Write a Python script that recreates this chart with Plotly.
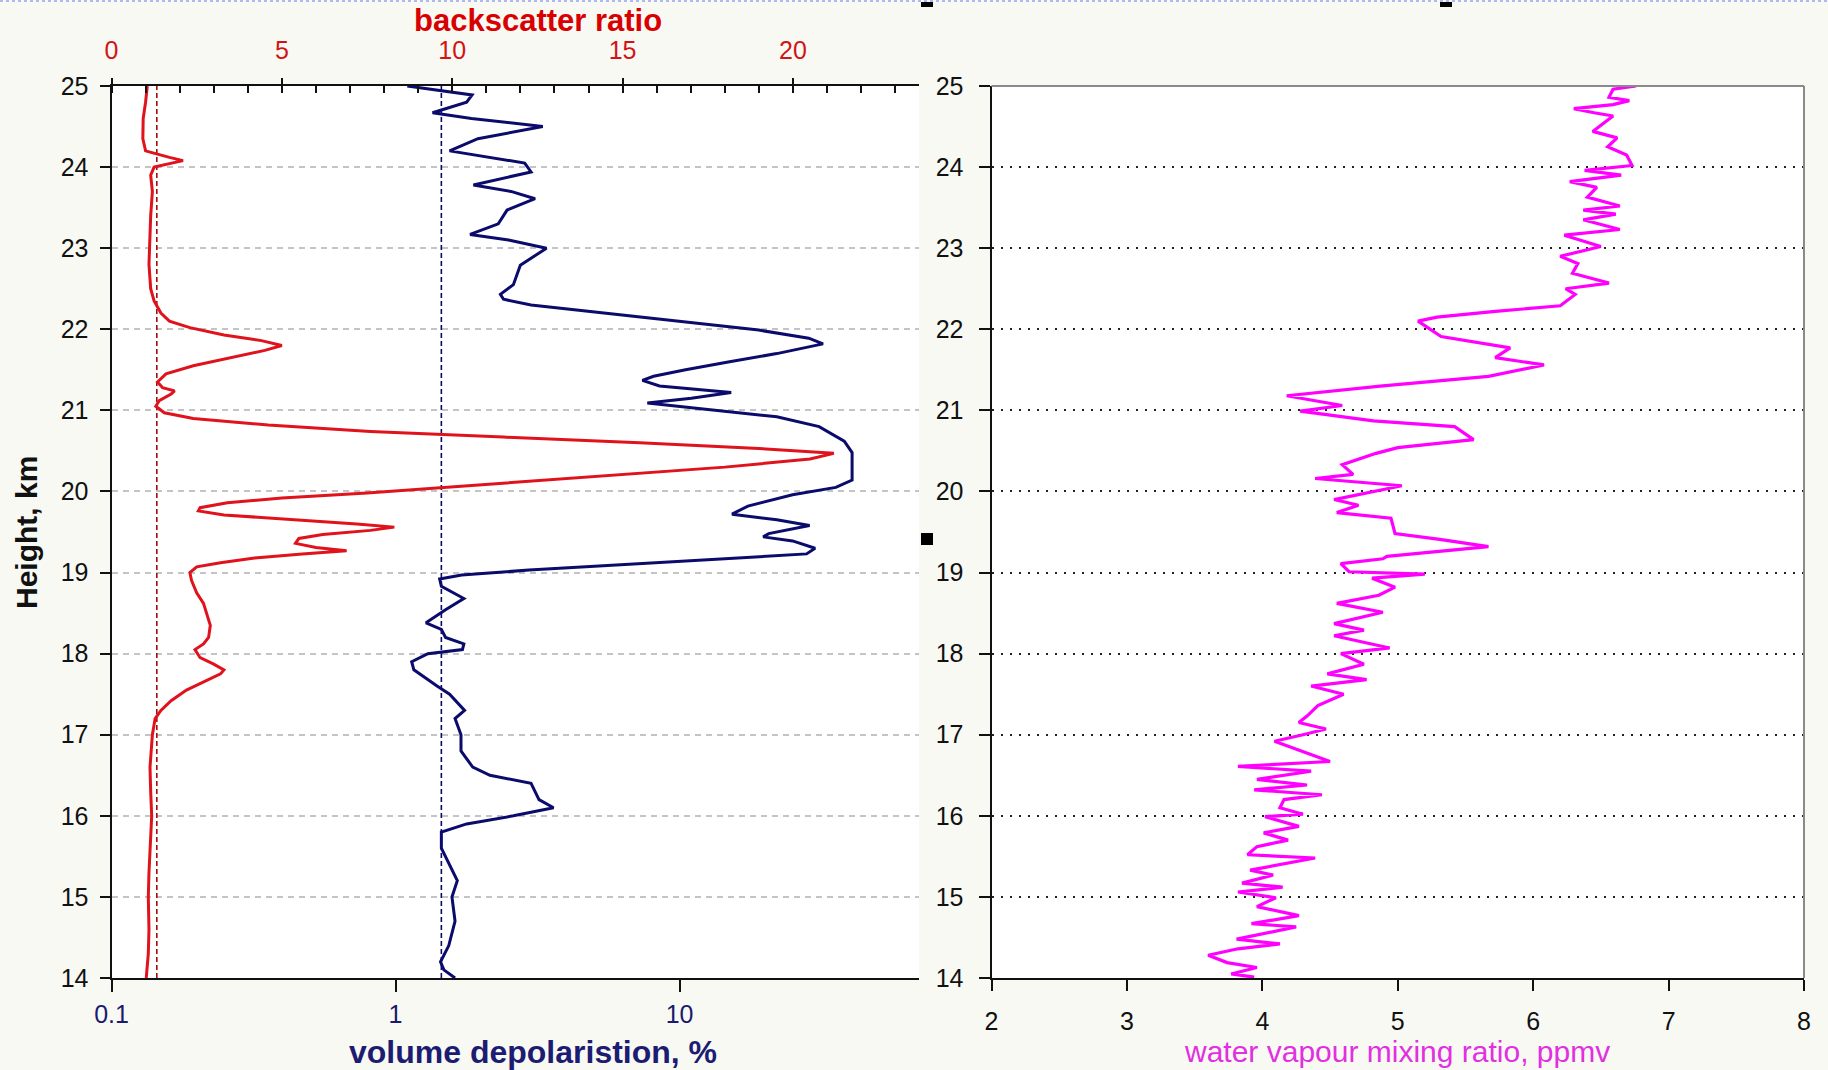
import plotly.graph_objects as go

# ---------------- data ----------------
# backscatter ratio profile (red, top axis)
bsr_height = [14.0, 14.3, 14.6, 15.0, 15.3, 15.6, 16.0, 16.3, 16.6, 17.0, 17.2, 17.3, 17.42, 17.55, 17.65,
              17.75, 17.8, 17.87, 17.95, 18.05, 18.12, 18.2, 18.35, 18.5, 18.62, 18.75, 18.9, 19.0, 19.07,
              19.12, 19.18, 19.23, 19.27, 19.31, 19.36, 19.42, 19.47, 19.52, 19.56, 19.6, 19.66, 19.71,
              19.76, 19.8, 19.86, 19.92, 19.98, 20.05, 20.12, 20.2, 20.3, 20.4, 20.47, 20.53, 20.6, 20.67,
              20.74, 20.82, 20.9, 20.97, 21.05, 21.12, 21.2, 21.24, 21.28, 21.35, 21.45, 21.55, 21.65,
              21.74, 21.8, 21.86, 21.93, 22.02, 22.1, 22.2, 22.35, 22.5, 22.8, 23.1, 23.4, 23.7, 23.9,
              24.0, 24.05, 24.08, 24.12, 24.2, 24.35, 24.6, 24.8, 25.0]
bsr_value = [1.02, 1.08, 1.10, 1.08, 1.10, 1.13, 1.18, 1.15, 1.13, 1.20, 1.28, 1.45, 1.75, 2.2, 2.7,
             3.2, 3.3, 3.0, 2.6, 2.45, 2.7, 2.85, 2.9, 2.8, 2.7, 2.5, 2.35, 2.3, 2.5,
             3.2, 4.2, 5.6, 6.9, 6.0, 5.4, 5.5, 6.2, 7.6, 8.3, 7.2, 5.2, 3.3,
             2.55, 2.6, 3.4, 5.0, 7.5, 9.8, 12.0, 14.5, 18.0, 20.5, 21.2, 19.0, 15.5, 11.5,
             7.6, 4.6, 2.4, 1.55, 1.3, 1.4, 1.75, 1.85, 1.5, 1.35, 1.6, 2.4, 3.5,
             4.5, 5.0, 4.4, 3.3, 2.3, 1.7, 1.45, 1.25, 1.15, 1.1, 1.12, 1.15, 1.2, 1.15,
             1.25, 1.8, 2.1, 1.7, 1.0, 0.92, 0.93, 1.0, 1.05]

# volume depolarisation profile (navy, bottom log axis), %
dep_height = [14.0, 14.1, 14.2, 14.4, 14.7, 15.0, 15.2, 15.4, 15.6, 15.8, 15.9, 16.0, 16.1, 16.2, 16.3,
              16.4, 16.5, 16.6, 16.8, 17.0, 17.2, 17.3, 17.5, 17.6, 17.8, 17.9, 18.0, 18.05, 18.12,
              18.2, 18.3, 18.38, 18.54, 18.68, 18.83, 18.92, 18.97, 19.03, 19.08, 19.15, 19.23, 19.3,
              19.39, 19.44, 19.48, 19.58, 19.65, 19.72, 19.82, 19.96, 20.05, 20.14, 20.31, 20.48, 20.62,
              20.8, 20.92, 21.04, 21.09, 21.15, 21.22, 21.3, 21.37, 21.42, 21.5, 21.6, 21.7, 21.82,
              21.89, 21.99, 22.1, 22.22, 22.3, 22.37, 22.43, 22.55, 22.79, 23.0, 23.1, 23.17, 23.3,
              23.47, 23.61, 23.7, 23.78, 23.94, 24.05, 24.2, 24.35, 24.5, 24.6, 24.67, 24.8, 24.89,
              24.95, 25.0]
dep_value = [1.62, 1.48, 1.44, 1.54, 1.62, 1.58, 1.65, 1.55, 1.45, 1.45, 1.78, 2.6, 3.6, 3.2, 3.1,
             3.0, 2.15, 1.87, 1.7, 1.7, 1.62, 1.75, 1.55, 1.4, 1.16, 1.14, 1.3, 1.72, 1.74,
             1.5, 1.45, 1.28, 1.5, 1.74, 1.45, 1.43, 1.71, 2.95, 5.2, 11.4, 28.0, 30.0,
             25.0, 19.7, 20.6, 28.7, 22.0, 15.3, 17.4, 25.0, 35.5, 40.5, 40.5, 40.5, 38.0,
             31.0, 22.0, 10.2, 7.7, 11.0, 15.2, 8.5, 7.4, 8.1, 10.5, 15.0, 22.0, 32.0,
             28.5, 19.0, 9.8, 4.9, 3.0, 2.4, 2.34, 2.6, 2.75, 3.4, 2.5, 1.83, 2.3,
             2.47, 3.1, 2.55, 1.88, 3.0, 2.85, 1.55, 1.95, 3.3, 1.85, 1.35, 1.78, 1.86,
             1.4, 1.1]

# water vapour mixing ratio profile (magenta), ppmv
wv_height = [14.01, 14.05, 14.13, 14.19, 14.28, 14.36, 14.42, 14.48, 14.63, 14.67, 14.77, 14.88, 14.99,
             15.06, 15.12, 15.17, 15.27, 15.33, 15.48, 15.52, 15.62, 15.70, 15.79, 15.87, 15.99, 16.02,
             16.10, 16.20, 16.26, 16.32, 16.38, 16.45, 16.55, 16.61, 16.67, 16.84, 16.92, 17.00, 17.07,
             17.15, 17.23, 17.36, 17.50, 17.60, 17.68, 17.75, 17.87, 18.00, 18.07, 18.22, 18.29, 18.37,
             18.51, 18.62, 18.72, 18.82, 18.93, 18.98, 19.01, 19.11, 19.17, 19.20, 19.32, 19.41, 19.48,
             19.67, 19.74, 19.83, 19.90, 20.07, 20.16, 20.21, 20.33, 20.47, 20.54, 20.64, 20.80, 20.87,
             20.99, 21.06, 21.18, 21.30, 21.42, 21.56, 21.65, 21.77, 21.91, 22.10, 22.15, 22.22, 22.29,
             22.43, 22.50, 22.57, 22.69, 22.81, 22.90, 23.02, 23.16, 23.23, 23.35, 23.42, 23.47, 23.52,
             23.63, 23.75, 23.82, 23.90, 23.96, 24.02, 24.15, 24.25, 24.36, 24.44, 24.63, 24.67, 24.72,
             24.77, 24.82, 24.86, 24.96, 25.00]
wv_value = [3.94, 3.77, 3.96, 3.74, 3.60, 3.82, 4.13, 3.81, 4.25, 3.92, 4.27, 3.96, 4.10,
            3.82, 4.15, 3.85, 4.08, 3.91, 4.39, 3.89, 3.96, 4.19, 4.01, 4.27, 4.02, 4.30,
            4.13, 4.16, 4.44, 3.94, 4.33, 3.96, 4.36, 3.82, 4.50, 4.22, 4.09, 4.30, 4.47,
            4.27, 4.33, 4.41, 4.60, 4.36, 4.77, 4.48, 4.75, 4.58, 4.94, 4.53, 4.75, 4.53,
            4.89, 4.55, 4.86, 4.98, 4.81, 5.20, 4.64, 4.58, 4.89, 4.92, 5.67, 5.31, 4.98,
            4.95, 4.55, 4.71, 4.53, 5.03, 4.39, 4.67, 4.59, 4.84, 5.00, 5.56, 5.42, 4.82,
            4.28, 4.59, 4.18, 4.87, 5.67, 6.08, 5.72, 5.83, 5.32, 5.15, 5.29, 5.72, 6.20,
            6.31, 6.24, 6.56, 6.29, 6.33, 6.20, 6.50, 6.23, 6.64, 6.37, 6.61, 6.37, 6.64,
            6.40, 6.47, 6.27, 6.65, 6.38, 6.73, 6.69, 6.55, 6.62, 6.44, 6.59, 6.45, 6.30,
            6.59, 6.71, 6.56, 6.59, 6.76]

# reference (background) levels
bsr_reference = 1.33
dep_reference = 1.45
ref_height = [14, 25]

# axis ticks
height_ticks = list(range(14, 26))
dep_ticks = [0.1, 1, 10]
dep_ticktext = ["0.1", "1", "10"]
bsr_ticks = [0, 5, 10, 15, 20]
wv_ticks = [2, 3, 4, 5, 6, 7, 8]

# ---------------- styling ----------------
W, H = 1828, 1070
FONT = "Liberation Sans, Arial, sans-serif"
RED = "#E0121C"
NAVY = "#0B0B6B"
MAGENTA = "#FF00FF"
BG = "#F9F9F4"
INK = "#111111"

def px_x(p):
    return p / W

def px_y(p):
    return (H - p) / H

left_dom = [px_x(111.5), px_x(919)]
right_dom = [px_x(991.5), px_x(1804)]
y_dom = [px_y(978), px_y(86)]

fig = go.Figure()

fig.add_trace(go.Scatter(x=[dep_reference, dep_reference], y=ref_height, xaxis="x", yaxis="y",
                         mode="lines", line=dict(color=NAVY, width=1.6, dash="5px,3px"),
                         hoverinfo="skip", showlegend=False))
fig.add_trace(go.Scatter(x=[bsr_reference, bsr_reference], y=ref_height, xaxis="x2", yaxis="y",
                         mode="lines", line=dict(color="#A01010", width=1.6, dash="5px,3px"),
                         hoverinfo="skip", showlegend=False))
fig.add_trace(go.Scatter(x=dep_value, y=dep_height, xaxis="x", yaxis="y", mode="lines",
                         line=dict(color=NAVY, width=3), name="volume depolarisation",
                         showlegend=False))
fig.add_trace(go.Scatter(x=bsr_value, y=bsr_height, xaxis="x2", yaxis="y", mode="lines",
                         line=dict(color=RED, width=3), name="backscatter ratio",
                         showlegend=False))
fig.add_trace(go.Scatter(x=wv_value, y=wv_height, xaxis="x3", yaxis="y2", mode="lines",
                         line=dict(color=MAGENTA, width=3.2), name="water vapour",
                         showlegend=False))

tick_font = dict(family=FONT, size=25, color=INK)

fig.update_layout(
    template="none",
    width=W, height=H, autosize=False,
    margin=dict(l=0, r=0, t=0, b=0, pad=0),
    paper_bgcolor=BG, plot_bgcolor="white",
    font=dict(family=FONT),
    showlegend=False,
    xaxis=dict(domain=left_dom, anchor="y", type="log", range=[-1, 1.843], automargin=False,
               tickvals=dep_ticks, ticktext=dep_ticktext, ticks="outside", ticklen=12,
               tickwidth=2, tickcolor=INK, showline=True, linecolor=INK, linewidth=2,
               showgrid=False, zeroline=False, ticklabelstandoff=1,
               tickfont=dict(family=FONT, size=25, color="#1A1A6E")),
    xaxis2=dict(overlaying="x", anchor="y", side="top", range=[0, 23.7], automargin=False,
                tickvals=bsr_ticks, ticks="outside", ticklen=6, tickwidth=2, tickcolor=INK,
                minor=dict(ticks="inside", ticklen=7, tickwidth=1.5, tickcolor=INK,
                           dtick=1, tick0=0, showgrid=False),
                showline=True, linecolor=INK, linewidth=2, showgrid=False, zeroline=False,
                ticklabelstandoff=9,
                tickfont=dict(family=FONT, size=25, color="#D01515")),
    xaxis4=dict(overlaying="x", anchor="y", side="top", range=[0, 23.7], automargin=False,
                tickvals=bsr_ticks, ticks="inside", ticklen=8, tickwidth=2, tickcolor=INK,
                showticklabels=False, showline=False, showgrid=False, zeroline=False),
    yaxis=dict(domain=y_dom, anchor="x", range=[14, 25], tickvals=height_ticks, automargin=False,
               ticks="outside", ticklen=10, tickwidth=2, tickcolor=INK,
               showline=True, linecolor=INK, linewidth=2,
               showgrid=True, gridcolor="#C4C4C4", gridwidth=1.5, griddash="6px,5px",
               zeroline=False, ticklabelstandoff=6, tickfont=tick_font),
    xaxis3=dict(domain=right_dom, anchor="y2", range=[2, 8], tickvals=wv_ticks, automargin=False,
                ticks="outside", ticklen=11, tickwidth=2, tickcolor=INK,
                showline=True, linecolor=INK, linewidth=2, showgrid=False, zeroline=False,
                ticklabelstandoff=9, tickfont=tick_font),
    yaxis2=dict(domain=y_dom, anchor="x3", range=[14, 25], tickvals=height_ticks, automargin=False,
                ticks="outside", ticklen=11, tickwidth=2, tickcolor=INK,
                showline=True, linecolor=INK, linewidth=2,
                showgrid=True, gridcolor="#222222", gridwidth=1.6, griddash="2px,7px",
                zeroline=False, ticklabelstandoff=10, tickfont=tick_font),
)

# gray top / right frame of right panel
fig.add_shape(type="line", xref="x3 domain", yref="y2 domain", x0=0, x1=1, y0=1, y1=1,
              line=dict(color="#8A8A8A", width=2))
fig.add_shape(type="line", xref="x3 domain", yref="y2 domain", x0=1, x1=1, y0=0, y1=1,
              line=dict(color="#8A8A8A", width=2))

# selection handles and dotted top border
for (x0, x1, y0, y1) in [(921, 933, 2, 7), (1440, 1452, 2, 7), (921, 933, 533, 545)]:
    fig.add_shape(type="rect", xref="paper", yref="paper", x0=px_x(x0), x1=px_x(x1),
                  y0=px_y(y1), y1=px_y(y0), fillcolor="black", line=dict(width=0))
fig.add_shape(type="line", xref="paper", yref="paper", x0=0, x1=1, y0=px_y(1), y1=px_y(1),
              line=dict(color="#AEB8F2", width=2, dash="dot"))

# axis titles
fig.add_annotation(text="backscatter ratio", xref="paper", yref="paper",
                   x=px_x(537.5), y=px_y(20), xanchor="center", yanchor="middle", showarrow=False,
                   font=dict(family=FONT, size=31, color="#D80000", weight="bold"))
fig.add_annotation(text="Height, km", xref="paper", yref="paper", textangle=-90,
                   x=px_x(26), y=px_y(533), xanchor="center", yanchor="middle", showarrow=False,
                   font=dict(family=FONT, size=30, color=INK, weight="bold"))
fig.add_annotation(text="volume depolaristion, %", xref="paper", yref="paper",
                   x=px_x(533), y=px_y(1052), xanchor="center", yanchor="middle", showarrow=False,
                   font=dict(family=FONT, size=32, color="#1C1C72", weight="bold"))
fig.add_annotation(text="water vapour mixing ratio, ppmv", xref="paper", yref="paper",
                   x=px_x(1396.6), y=px_y(1051), xanchor="center", yanchor="middle", showarrow=False,
                   font=dict(family=FONT, size=30, color="#E030E0"))

fig.write_html("out.html", config={"displayModeBar": False},
               post_script="document.body.style.margin='0';")
